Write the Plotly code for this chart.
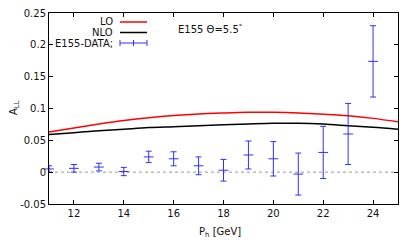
import plotly.graph_objects as go

# Theory curves
curve_x = [11, 12, 13, 14, 15, 16, 17, 18, 19, 20, 21, 22, 23, 24, 25]
lo_y = [0.063, 0.0695, 0.0755, 0.081, 0.0855, 0.089, 0.0915, 0.093, 0.094, 0.094, 0.093, 0.091, 0.0885, 0.0845, 0.079]
nlo_y = [0.059, 0.062, 0.065, 0.0675, 0.070, 0.0715, 0.073, 0.0745, 0.0758, 0.0768, 0.0768, 0.0755, 0.073, 0.0705, 0.0675]

# E155 data
data_x = [11, 12, 13, 14, 15, 16, 17, 18, 19, 20, 21, 22, 23, 24]
data_y = [0.005, 0.006, 0.008, 0.001, 0.024, 0.021, 0.010, 0.003, 0.027, 0.021, -0.003, 0.031, 0.060, 0.174]
data_err = [0.005, 0.006, 0.006, 0.0065, 0.009, 0.011, 0.014, 0.017, 0.022, 0.027, 0.033, 0.041, 0.048, 0.056]

x_ticks = [12, 14, 16, 18, 20, 22, 24]
y_ticks = [-0.05, 0, 0.05, 0.1, 0.15, 0.2, 0.25]
y_tick_text = ["-0.05", "0", "0.05", "0.1", "0.15", "0.2", "0.25"]

BLUE = "#3030ff"
FONT = "DejaVu Sans"

fig = go.Figure()
fig.add_trace(go.Scatter(x=curve_x, y=lo_y, mode="lines", line=dict(color="#ff0000", width=1.5, shape="spline"), showlegend=False))
fig.add_trace(go.Scatter(x=curve_x, y=nlo_y, mode="lines", line=dict(color="#000000", width=1.5, shape="spline"), showlegend=False))
fig.add_trace(go.Scatter(
    x=data_x, y=data_y, mode="markers",
    marker=dict(symbol="line-ew-open", size=7, color=BLUE, line=dict(color=BLUE, width=1)),
    error_y=dict(type="data", array=data_err, visible=True, color=BLUE, thickness=1, width=3),
    showlegend=False, cliponaxis=False))

# page body has an 8px margin; figure is sized to fit inside the window
OFF = 8
W, H = 415 - 2 * OFF, 249 - 2 * OFF
PL, PR, PT, PB = 49, 398, 13, 204  # plot area in page pixels
L, T = PL - OFF, PT - OFF
R = W - (PR - OFF)
B = H - (PB - OFF)
pw, ph = PR - PL, PB - PT

def px(x):
    return (x - PL) / pw

def py(y):
    return (PB - y) / ph

shapes = []
# dotted zero line
shapes.append(dict(type="line", xref="paper", yref="y", x0=0, x1=1, y0=0, y1=0,
                   line=dict(color="#999999", width=1, dash="dot"), layer="below"))
# legend samples
shapes.append(dict(type="line", xref="paper", yref="paper", x0=px(120), x1=px(147), y0=py(22), y1=py(22), line=dict(color="#ff0000", width=1.5)))
shapes.append(dict(type="line", xref="paper", yref="paper", x0=px(120), x1=px(147), y0=py(32.5), y1=py(32.5), line=dict(color="#000000", width=1.5)))
shapes.append(dict(type="line", xref="paper", yref="paper", x0=px(120), x1=px(147), y0=py(43), y1=py(43), line=dict(color=BLUE, width=1)))
for xx in (120, 133.5, 147):
    shapes.append(dict(type="line", xref="paper", yref="paper", x0=px(xx), x1=px(xx), y0=py(40), y1=py(46), line=dict(color=BLUE, width=1)))

annotations = []
for txt, yy in (("LO", 22), ("NLO", 32.5), ("E155-DATA;", 43)):
    annotations.append(dict(text=txt, xref="paper", yref="paper", x=px(115), y=py(yy), xanchor="right", yanchor="middle",
                            showarrow=False, font=dict(family=FONT, size=10, color="#111")))
annotations.append(dict(text="E155 Θ=5.5<sup>°</sup>", xref="paper", yref="paper", x=px(176), y=py(29), xanchor="left", yanchor="middle",
                        showarrow=False, font=dict(family=FONT, size=10, color="#111")))
annotations.append(dict(text="A<sub>LL</sub>", xref="paper", yref="paper", x=px(14), y=py(108), xanchor="center", yanchor="middle",
                        textangle=-90, showarrow=False, font=dict(family=FONT, size=10, color="#111")))
annotations.append(dict(text="P<sub>h</sub> [GeV]", xref="paper", yref="paper", x=px(220), y=py(232), xanchor="center", yanchor="middle",
                        showarrow=False, font=dict(family=FONT, size=10, color="#111")))

fig.update_layout(
    width=W, height=H,
    margin=dict(l=L, r=R, t=T, b=B, autoexpand=False),
    paper_bgcolor="white", plot_bgcolor="white",
    font=dict(family=FONT, size=10, color="#111"),
    shapes=shapes, annotations=annotations,
    xaxis=dict(range=[11, 25], tickvals=x_ticks, ticks="inside", ticklen=4, tickcolor="#000",
               showline=True, linecolor="#000", linewidth=1, mirror="ticks", showgrid=False, zeroline=False,
               ticklabeloverflow="allow",
               tickfont=dict(family=FONT, size=10, color="#111")),
    yaxis=dict(range=[-0.05, 0.25], tickvals=y_ticks, ticktext=y_tick_text, ticks="inside", ticklen=4, tickcolor="#000",
               showline=True, linecolor="#000", linewidth=1, mirror="ticks", showgrid=False, zeroline=False,
               ticklabeloverflow="allow",
               tickfont=dict(family=FONT, size=10, color="#111")),
)

fig.write_html("out.html")
